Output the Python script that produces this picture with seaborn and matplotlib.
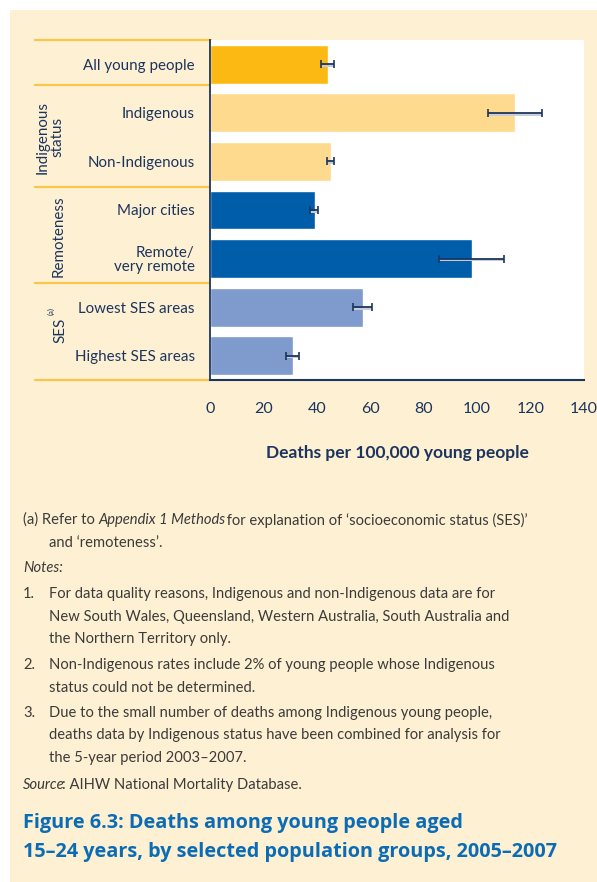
import numpy as np
import pandas as pd
import seaborn as sns
import matplotlib.pyplot as plt
from matplotlib.patches import Rectangle
from matplotlib.lines import Line2D

# data
groups = ['All young people', 'Indigenous', 'Non-Indigenous', 'Major cities',
          'Remote/\nvery remote', 'Lowest SES areas', 'Highest SES areas']
rates = [44.2, 114.2, 45.3, 39.3, 98.1, 57.3, 31.1]
ci_low = [41.7, 104.1, 43.9, 37.5, 85.8, 53.6, 28.6]
ci_high = [46.5, 124.1, 46.6, 40.5, 110.2, 60.5, 33.4]
bar_colors = ['#FDB913', '#FEDA8F', '#FEDA8F', '#005DAA', '#005DAA', '#7F9ACC', '#7F9ACC']
x_ticks = [0, 20, 40, 60, 80, 100, 120, 140]

df = pd.DataFrame({'group': groups, 'rate': rates})

cream = '#FEF0D2'
navy = '#1C355E'
gold = '#FBC54A'

sns.set_style('white')
plt.rcParams['font.family'] = ['Lato', 'DejaVu Sans']

W, H = 597, 882
fig = plt.figure(figsize=(W / 100, H / 100), dpi=100)
fig.patch.set_facecolor('white')


def fx(px):
    return px / W


def fy(py):
    return 1 - py / H


fig.patches.append(Rectangle((fx(10), 0), 1 - fx(10), fy(10), transform=fig.transFigure,
                             facecolor=cream, edgecolor='none', zorder=-5))

ax = fig.add_axes([fx(210), fy(380), fx(584) - fx(210), fy(40) - fy(380)])
ax.set_zorder(2)
ax.set_facecolor('white')
sns.barplot(data=df, x='rate', y='group', hue='group', palette=bar_colors,
            legend=False, width=0.8, saturation=1, ax=ax, orient='h')

err = [np.array(rates) - np.array(ci_low), np.array(ci_high) - np.array(rates)]
# faint grey shadow under the error bars
ax.errorbar(rates, np.arange(len(groups)) + 0.035, xerr=err, fmt='none',
            ecolor='#C9CED6', elinewidth=1.4, capsize=0, zorder=3)
ax.errorbar(rates, np.arange(len(groups)), xerr=err, fmt='none',
            ecolor=navy, elinewidth=1.3, capsize=3, capthick=1.2, zorder=4)

ax.set_xlim(0, 140)
ax.set_ylim(6.5, -0.5)
ax.set_xticks(x_ticks)
ax.set_xticklabels([str(t) for t in x_ticks], fontsize=11.5, color=navy)
ax.tick_params(axis='x', length=8, width=1.5, color='#6F7F95', pad=8, direction='out')
ax.set_yticks(range(len(groups)))
ax.set_yticklabels(groups, fontsize=10.9, color=navy, linespacing=1.0)
ax.tick_params(axis='y', length=0, pad=11)
ax.set_xlabel('Deaths per 100,000 young people', fontsize=12.5,
              fontweight='bold', color=navy, labelpad=21)
ax.set_ylabel('')
for side in ['top', 'right']:
    ax.spines[side].set_visible(False)
ax.spines['left'].set_color(navy)
ax.spines['left'].set_linewidth(1.3)
ax.spines['bottom'].set_color(navy)
ax.spines['bottom'].set_linewidth(1.5)
for lbl in ax.get_xticklabels():
    lbl.set_clip_on(False)

# group separators in the label panel
for py in [40, 84.5, 187, 283, 380]:
    fig.add_artist(Line2D([fx(35), fx(211)], [fy(py), fy(py)], color=gold, lw=1.6,
                          transform=fig.transFigure))

fig.text(fx(50), fy(137), 'Indigenous\nstatus', rotation=90, ha='center', va='center',
         fontsize=10.9, color=navy, linespacing=1.0)
fig.text(fx(59), fy(236), 'Remoteness', rotation=90, ha='center', va='center',
         fontsize=10.9, color=navy)
fig.text(fx(60), fy(330), 'SES', rotation=90, ha='center', va='center',
         fontsize=10.9, color=navy)
fig.text(fx(51), fy(311), '(a)', rotation=90, ha='center', va='center',
         fontsize=5.5, color=navy)

# notes below the chart
note_color = '#3B3B3B'
fs = 10.6
renderer = fig.canvas.get_renderer()


def mixed(x_px, y_px, parts):
    # parts: list of (text, style) drawn one after another on one line
    x = fx(x_px)
    for s, st in parts:
        t = fig.text(x, fy(y_px), s, fontsize=fs, color=note_color, va='center', style=st)
        bb = t.get_window_extent(renderer)
        x += (bb.width - (2.5 if st == 'italic' else 0)) / W


mixed(23, 520, [('(a) Refer to ', 'normal'), ('Appendix 1 Methods', 'italic'),
                (' for explanation of \u2018socioeconomic status (SES)\u2019', 'normal')])
mixed(49, 543, [('and \u2018remoteness\u2019.', 'normal')])
mixed(23, 568, [('Notes:', 'italic')])
notes = [
    ['For data quality reasons, Indigenous and non-Indigenous data are for',
     'New South Wales, Queensland, Western Australia, South Australia and',
     'the Northern Territory only.'],
    ['Non-Indigenous rates include 2% of young people whose Indigenous',
     'status could not be determined.'],
    ['Due to the small number of deaths among Indigenous young people,',
     'deaths data by Indigenous status have been combined for analysis for',
     'the 5-year period 2003\u20132007.'],
]
note_y = [594, 665, 713]
for i, (lines, y0) in enumerate(zip(notes, note_y)):
    fig.text(fx(23), fy(y0), f'{i + 1}.', fontsize=fs, color=note_color, va='center')
    for j, line in enumerate(lines):
        fig.text(fx(49), fy(y0 + 22.5 * j), line, fontsize=fs, color=note_color, va='center')
mixed(23, 785, [('Source', 'italic'), (': AIHW National Mortality Database.', 'normal')])

fig.text(fx(23), fy(823), 'Figure 6.3: Deaths among young people aged', fontsize=14.3,
         fontweight='bold', color='#0B6CB5', va='center', family=['Open Sans', 'DejaVu Sans'])
fig.text(fx(23), fy(852), '15\u201324 years, by selected population groups, 2005\u20132007',
         fontsize=14.3, fontweight='bold', color='#0B6CB5', va='center',
         family=['Open Sans', 'DejaVu Sans'])

fig.savefig('out.png', dpi=100, facecolor=fig.get_facecolor())
